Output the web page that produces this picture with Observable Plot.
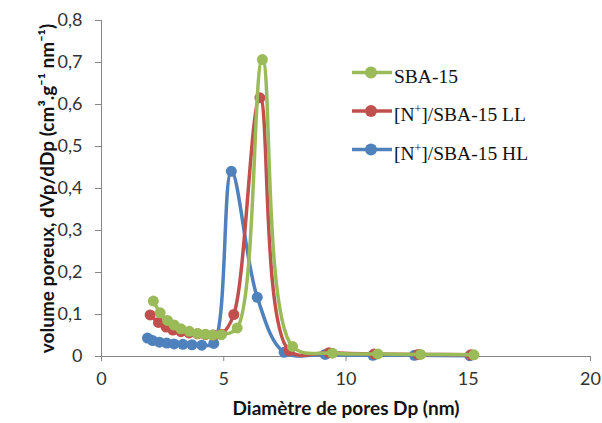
<!DOCTYPE html>
<html><head><meta charset="utf-8">
<script src="https://cdn.jsdelivr.net/npm/d3@7"></script>
<script src="https://cdn.jsdelivr.net/npm/@observablehq/plot@0.6"></script>
<style>body{margin:0;background:#fff}#chart{position:relative;width:602px;height:423px}</style>
</head><body><div id="chart"></div>
<script>
// Series names & colours
const seriesNames = ["SBA-15", "[N+]/SBA-15 LL", "[N+]/SBA-15 HL"];
const seriesColors = ["#9BBB59", "#C0504D", "#4F81BD"];

// SBA-15 (green)
const dpSBA = [2.12, 2.40, 2.70, 2.97, 3.25, 3.59, 3.93, 4.25, 4.55, 4.90, 5.55, 6.58, 7.81, 9.45, 11.3, 13.05, 15.23];
const vSBA  = [0.132, 0.104, 0.086, 0.075, 0.066, 0.060, 0.055, 0.053, 0.051, 0.052, 0.068, 0.707, 0.024, 0.008, 0.006, 0.005, 0.004];

// [N+]/SBA-15 LL (red)
const dpLL = [1.99, 2.33, 2.64, 2.92, 3.25, 3.58, 3.93, 4.25, 4.58, 4.90, 5.41, 6.48, 7.67, 9.3, 11.15, 12.95, 15.1];
const vLL  = [0.099, 0.081, 0.070, 0.063, 0.059, 0.056, 0.054, 0.052, 0.051, 0.053, 0.100, 0.616, 0.014, 0.009, 0.006, 0.005, 0.004];

// [N+]/SBA-15 HL (blue)
const dpHL = [1.88, 2.09, 2.37, 2.67, 2.97, 3.33, 3.70, 4.10, 4.59, 5.31, 6.37, 7.47, 9.15, 11.1, 12.8, 15.07];
const vHL  = [0.044, 0.038, 0.034, 0.032, 0.030, 0.029, 0.028, 0.027, 0.031, 0.441, 0.141, 0.010, 0.005, 0.003, 0.003, 0.002];

const xTicks = [0, 5, 10, 15, 20];
const yTicks = [0, 0.1, 0.2, 0.3, 0.4, 0.5, 0.6, 0.7, 0.8];
const xLabel = "Diamètre de pores Dp (nm)";
const yLabel = "volume poreux, dVp/dDp (cm³.g⁻¹ nm⁻¹)";

const toRows = (dp, v, s) => dp.map((d, i) => ({dp: d, v: v[i], s}));
const series = [
  toRows(dpHL, vHL, seriesNames[2]),
  toRows(dpLL, vLL, seriesNames[1]),
  toRows(dpSBA, vSBA, seriesNames[0])
];

const fmt = d => d === 0 ? "0" : d.toFixed(1).replace(".", ",");
const axisGray = "#868686";
const font = "Lato, 'Open Sans', sans-serif";

const marks = [
  Plot.axisX({ticks: xTicks, tickSize: 5, tickPadding: 11, label: null, stroke: axisGray, fill: "#333", fontSize: 18}),
  Plot.axisY({ticks: yTicks, tickSize: 6, tickPadding: 13, tickFormat: fmt, label: null, stroke: axisGray, fill: "#333", fontSize: 18}),
  Plot.ruleX([0], {stroke: axisGray}),
  Plot.ruleY([0], {stroke: axisGray}),
  Plot.text([xLabel], {frameAnchor: "bottom", dy: 52, lineAnchor: "middle", textAnchor: "middle", fontWeight: "bold", fontSize: 19, fill: "#111"}),
  Plot.text([yLabel], {frameAnchor: "left", dx: -54, rotate: -90, lineAnchor: "middle", textAnchor: "middle", fontWeight: "bold", fontSize: 19, fill: "#111"})
];
for (const rows of series) {
  marks.push(Plot.line(rows, {x: "dp", y: "v", stroke: "s", strokeWidth: 3.5, curve: "catmull-rom"}));
  marks.push(Plot.dot(rows, {x: "dp", y: "v", fill: "s", r: 5.5}));
}

const chart = Plot.plot({
  width: 602, height: 423,
  marginLeft: 101, marginRight: 12, marginTop: 20, marginBottom: 67,
  style: {fontFamily: font, fontSize: "18px", background: "#fff", overflow: "visible"},
  x: {domain: [0, 20]},
  y: {domain: [0, 0.8]},
  color: {domain: seriesNames, range: seriesColors},
  marks
});
document.getElementById("chart").appendChild(chart);

// Legend
const svg = d3.select(chart);
const lg = svg.append("g")
  .attr("font-family", "'Liberation Serif', 'Times New Roman', serif")
  .attr("font-size", 19.5)
  .attr("text-anchor", "start")
  .attr("fill", "#111");
const legendItems = [
  {color: seriesColors[0], parts: [["SBA-15", false]]},
  {color: seriesColors[1], parts: [["[N", false], ["+", true], ["]/SBA-15 LL", false]]},
  {color: seriesColors[2], parts: [["[N", false], ["+", true], ["]/SBA-15 HL", false]]}
];
legendItems.forEach((it, i) => {
  const y = 72.5 + i * 38.5;
  lg.append("line").attr("x1", 352).attr("x2", 392).attr("y1", y).attr("y2", y).attr("stroke", it.color).attr("stroke-width", 3.3);
  lg.append("circle").attr("cx", 371).attr("cy", y).attr("r", 6).attr("fill", it.color);
  const t = lg.append("text").attr("x", 394).attr("y", y + 10);
  let prevSup = false;
  it.parts.forEach(([s, sup]) => {
    const ts = t.append("tspan").text(s);
    if (sup) ts.attr("font-size", 12).attr("dy", -8);
    else if (prevSup) ts.attr("dy", 8);
    prevSup = sup;
  });
});
</script>
</body></html>
